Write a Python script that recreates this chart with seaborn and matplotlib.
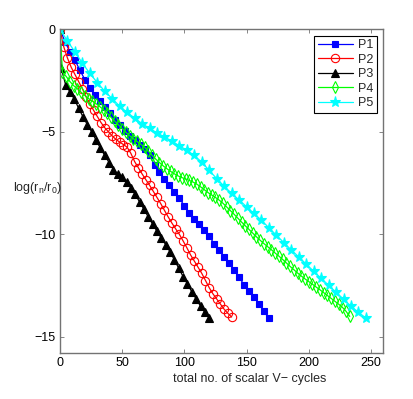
import numpy as np
import pandas as pd
import matplotlib
matplotlib.use("Agg")
import matplotlib.pyplot as plt
import seaborn as sns

# ---------------- data ----------------
p1_x = np.arange(0, 169, 4)
p1_y = [0, -0.6, -1.1, -1.5, -2.0, -2.45, -2.85, -3.22, -3.52, -3.78,
        -4.1, -4.4, -4.68, -4.95, -5.2, -5.42, -5.63, -5.85, -6.15, -6.6,
        -6.95, -7.3, -7.6, -7.95, -8.25, -8.6, -8.95, -9.25, -9.5, -9.8,
        -10.1, -10.45, -10.75, -11.1, -11.4, -11.75, -12.1, -12.45, -12.75,
        -13.05, -13.4, -13.75, -14.1]

p2_x = np.arange(0, 139, 3)
p2_y = [0, -0.85, -1.4, -1.85, -2.2, -2.55, -2.9, -3.3, -3.65, -3.95,
        -4.25, -4.55, -4.8, -5.0, -5.2, -5.37, -5.5, -5.62, -5.75, -6.05,
        -6.45, -6.75, -7.05, -7.33, -7.6, -7.9, -8.2, -8.5, -8.83, -9.15,
        -9.45, -9.73, -10.0, -10.32, -10.65, -11.0, -11.3, -11.6, -11.9,
        -12.25, -12.6, -12.9, -13.15, -13.4, -13.65, -13.85, -14.03]

p3_x = np.concatenate([[0], np.arange(1, 121, 3.5)])
p3_y = [0, -1.9, -2.7, -3.05, -3.4, -3.85, -4.27, -4.65, -5.0, -5.4,
        -5.8, -6.15, -6.5, -6.85, -7.05, -7.2, -7.45, -7.72, -8.05, -8.42,
        -8.78, -9.15, -9.5, -9.85, -10.18, -10.5, -10.85, -11.25, -11.65,
        -12.06, -12.42, -12.8, -13.15, -13.5, -13.8, -14.08]

p4_x = np.concatenate([[0], np.arange(2, 234, 3)])
p4_y = [0, -2.10, -2.30, -2.55, -2.75, -2.90, -3.07, -3.23, -3.38, -3.50,
        -3.63, -3.77, -3.92, -4.10, -4.29, -4.48, -4.66, -4.84, -5.02,
        -5.19, -5.33, -5.47, -5.61, -5.75, -5.94, -6.14, -6.33, -6.50,
        -6.66, -6.80, -6.93, -7.05, -7.15, -7.23, -7.30, -7.37, -7.45,
        -7.55, -7.68, -7.82, -7.96, -8.08, -8.20, -8.33, -8.48, -8.66,
        -8.84, -9.02, -9.21, -9.40, -9.58, -9.76, -9.94, -10.12, -10.29,
        -10.45, -10.60, -10.75, -10.91, -11.06, -11.22, -11.39, -11.56,
        -11.72, -11.88, -12.03, -12.17, -12.30, -12.43, -12.57, -12.70,
        -12.84, -12.98, -13.12, -13.26, -13.40, -13.55, -13.75, -14.0]

p5_x = np.arange(0, 247, 6)
p5_y = [0, -0.57, -1.1, -1.65, -2.15, -2.6, -3.02, -3.38, -3.75, -4.05,
        -4.33, -4.6, -4.83, -5.05, -5.25, -5.45, -5.68, -5.9, -6.15, -6.48,
        -6.88, -7.28, -7.65, -8.0, -8.32, -8.65, -8.98, -9.31, -9.68,
        -10.04, -10.4, -10.76, -11.1, -11.45, -11.8, -12.14, -12.48,
        -12.82, -13.16, -13.5, -13.8, -14.08]

labels = ["P1", "P2", "P3", "P4", "P5"]
xticks = [0, 50, 100, 150, 200, 250]
yticks = [0, -5, -10, -15]

# ---------------- style ----------------
sns.set_theme(style="white")
plt.rcParams["font.family"] = ["Liberation Sans", "DejaVu Sans"]
plt.rcParams["xtick.direction"] = "in"
plt.rcParams["ytick.direction"] = "in"

fig = plt.figure(figsize=(4.14, 3.99), dpi=100)
ax = fig.add_axes([60 / 414, 1 - 353.3 / 399, (383.3 - 60) / 414, (353.3 - 29.3) / 399])

series = [
    (p1_x, p1_y, dict(color=(0, 0, 1), marker="s", markersize=4.8,
                      markerfacecolor=(0, 0, 1), markeredgecolor=(0, 0, 1))),
    (p2_x, p2_y, dict(color=(1, 0, 0), marker="o", markersize=6.0,
                      markerfacecolor="none", markeredgecolor=(1, 0, 0))),
    (p3_x, p3_y, dict(color=(0, 0, 0), marker="^", markersize=5.6,
                      markerfacecolor=(0, 0, 0), markeredgecolor=(0, 0, 0))),
    (p4_x, p4_y, dict(color=(0, 1, 0), marker="d", markersize=5.8,
                      markerfacecolor="none", markeredgecolor=(0, 1, 0))),
    (p5_x, p5_y, dict(color=(0, 1, 1), marker="*", markersize=8.0,
                      markerfacecolor=(0, 1, 1), markeredgecolor=(0, 1, 1))),
]

for (xs, ys, kw), lab in zip(series, labels):
    df = pd.DataFrame({"x": xs, "y": ys})
    sns.lineplot(data=df, x="x", y="y", ax=ax, label=lab, sort=False,
                 estimator=None, linewidth=0.9, markeredgewidth=0.8, **kw)

ax.set_xlim(0, 260)
ax.set_ylim(-15.8, 0)
ax.set_xticks(xticks)
ax.set_yticks(yticks)
ax.set_xticklabels([str(t) for t in xticks])
ax.set_yticklabels([str(t).replace("-", "\u2212") for t in yticks])
ax.tick_params(axis="both", which="both", direction="in", length=3, width=0.6,
               colors=(0.45, 0.45, 0.45), labelcolor="black", labelsize=9,
               top=True, right=True, bottom=True, left=True, pad=3)
for s in ax.spines.values():
    s.set_visible(True)
    s.set_color((0.45, 0.45, 0.45))
    s.set_linewidth(1.0)

ax.set_xlabel("")
ax.set_ylabel("")
fig.text(250 / 414, 1 - 379 / 399, "total no. of scalar V\u2212 cycles",
         ha="center", va="center", fontsize=9)
fig.text(37 / 414, 1 - 188 / 399, r"log(r$_\mathregular{n}$/r$_\mathregular{0}$)",
         ha="center", va="center", fontsize=9)

leg = ax.legend(loc="upper right", fontsize=9, frameon=True, fancybox=False,
                edgecolor="black", framealpha=1, borderaxespad=0.5,
                handlelength=2.8, labelspacing=0.2, borderpad=0.3,
                handletextpad=0.4)
leg.get_frame().set_linewidth(0.8)

fig.savefig("out.png", dpi=100, facecolor="white")
